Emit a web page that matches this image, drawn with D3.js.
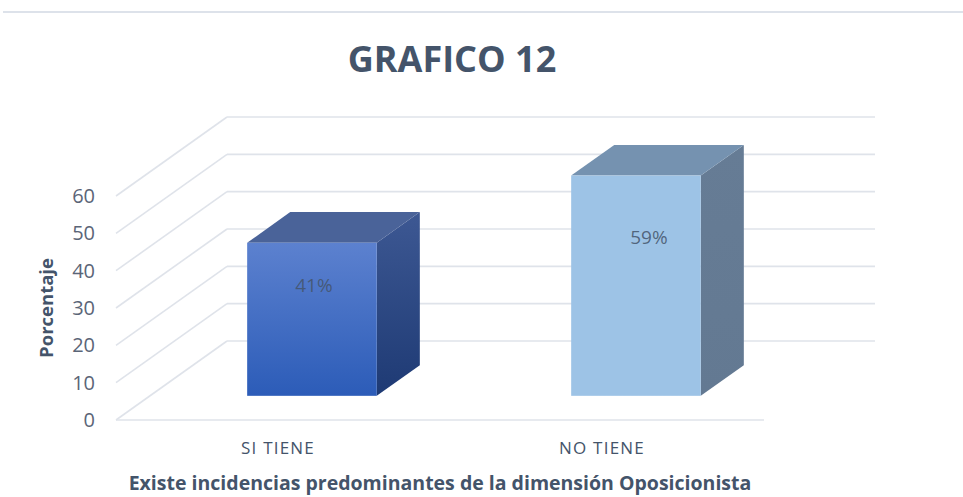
<!DOCTYPE html>
<html>
<head>
<meta charset="utf-8">
<script src="https://cdn.jsdelivr.net/npm/d3@7"></script>
<style>
  body { margin: 0; background: #fff; }
  svg text { font-family: "Open Sans", sans-serif; }
</style>
</head>
<body>
<div id="chart"></div>
<script>
// data
var categories = ["SI TIENE", "NO TIENE"];
var values = [41, 59];
var valueLabels = ["41%", "59%"];
var yTicks = [0, 10, 20, 30, 40, 50, 60];

var svgWidth = 963;
var svgHeight = 497;

// oblique projection of the 3D box: full depth shifts right and up
var DX = 111, DY = 79;
var zFront = 0.306, zBack = 0.694;

var svg = d3.select("#chart")
  .append("svg")
  .attr("width", svgWidth)
  .attr("height", svgHeight);

var defs = svg.append("defs");

function grad(id, c1, c2) {
  var g = defs.append("linearGradient")
    .attr("id", id)
    .attr("x1", 0).attr("y1", 0).attr("x2", 0).attr("y2", 1);
  g.append("stop").attr("offset", "0%").attr("stop-color", c1);
  g.append("stop").attr("offset", "100%").attr("stop-color", c2);
}
grad("front0", "#5c81cf", "#2c5cb8");
grad("side0", "#3d5893", "#1e3a74");
grad("front1", "#9dc3e6", "#9dc3e6");
grad("side1", "#667c95", "#637992");

var faceColors = [
  { front: "url(#front0)", side: "url(#side0)", top: "#4a6399" },
  { front: "url(#front1)", side: "url(#side1)", top: "#7592b0" }
];

// scales
var yScale = d3.scaleLinear().domain([0, 60]).range([420, 196]);
var xScale = d3.scaleBand()
  .domain(categories)
  .range([116, 764])
  .paddingInner(0.6)
  .paddingOuter(0.3);

function proj(x, v, z) {
  return [x + z * DX, yScale(v) - z * DY];
}

// chart border line on top
svg.append("line")
  .attr("x1", 3).attr("x2", 963)
  .attr("y1", 12).attr("y2", 12)
  .attr("stroke", "#dde2ea")
  .attr("stroke-width", 2);

// title
svg.append("text")
  .attr("x", 452)
  .attr("y", 72)
  .attr("text-anchor", "middle")
  .attr("font-size", 36)
  .attr("font-weight", "bold")
  .attr("fill", "#44546a")
  .text("GRAFICO 12");

var grid = svg.append("g")
  .attr("stroke", "#dfe3ea")
  .attr("stroke-width", 1.6)
  .attr("fill", "none");

var x0 = xScale.range()[0], x1 = xScale.range()[1];

// back wall lines
grid.selectAll(".back")
  .data(yTicks)
  .enter()
  .append("line")
  .attr("x1", d => proj(x0, d, 1)[0])
  .attr("y1", d => proj(x0, d, 1)[1])
  .attr("x2", d => proj(x1, d, 1)[0])
  .attr("y2", d => proj(x1, d, 1)[1]);

// side wall lines
grid.selectAll(".side")
  .data(yTicks)
  .enter()
  .append("line")
  .attr("x1", d => proj(x0, d, 0)[0])
  .attr("y1", d => proj(x0, d, 0)[1])
  .attr("x2", d => proj(x0, d, 1)[0])
  .attr("y2", d => proj(x0, d, 1)[1]);

// floor front edge
grid.append("line")
  .attr("x1", proj(x0, 0, 0)[0])
  .attr("y1", proj(x0, 0, 0)[1])
  .attr("x2", proj(x1, 0, 0)[0])
  .attr("y2", proj(x1, 0, 0)[1]);

// y tick labels
svg.append("g")
  .selectAll("text")
  .data(yTicks)
  .enter()
  .append("text")
  .attr("x", 95)
  .attr("y", d => yScale(d))
  .attr("dy", "0.35em")
  .attr("text-anchor", "end")
  .attr("font-size", 20)
  .attr("fill", "#5b6577")
  .text(d => d);

// y axis title
svg.append("text")
  .attr("transform", "translate(53, 308) rotate(-90)")
  .attr("text-anchor", "middle")
  .attr("font-size", 18.5)
  .attr("font-weight", "bold")
  .attr("fill", "#44546a")
  .text("Porcentaje");

// bars
var bars = svg.append("g")
  .selectAll("g")
  .data(values)
  .enter()
  .append("g");

function pts(list) {
  return list.map(p => p.join(",")).join(" ");
}

bars.append("polygon")
  .attr("points", (d, i) => {
    var xr = xScale(categories[i]) + xScale.bandwidth();
    return pts([proj(xr, 0, zFront), proj(xr, 0, zBack), proj(xr, d, zBack), proj(xr, d, zFront)]);
  })
  .attr("fill", (d, i) => faceColors[i].side);

bars.append("polygon")
  .attr("points", (d, i) => {
    var xl = xScale(categories[i]);
    var xr = xl + xScale.bandwidth();
    return pts([proj(xl, d, zFront), proj(xl, d, zBack), proj(xr, d, zBack), proj(xr, d, zFront)]);
  })
  .attr("fill", (d, i) => faceColors[i].top);

bars.append("rect")
  .attr("x", (d, i) => proj(xScale(categories[i]), 0, zFront)[0])
  .attr("y", d => proj(0, d, zFront)[1])
  .attr("width", xScale.bandwidth())
  .attr("height", d => yScale(0) - yScale(d))
  .attr("fill", (d, i) => faceColors[i].front);

// value labels, placed at about 72% of the bar height
var labelNudge = [2, 13];
bars.append("text")
  .attr("x", (d, i) => proj(xScale(categories[i]) + xScale.bandwidth() / 2, 0, zFront)[0] + labelNudge[i])
  .attr("y", d => proj(0, d * 0.72, zFront)[1])
  .attr("dy", "0.35em")
  .attr("text-anchor", "middle")
  .attr("font-size", 19)
  .attr("fill", "#44546a")
  .attr("fill-opacity", 0.85)
  .text((d, i) => valueLabels[i]);

// category labels
svg.append("g")
  .selectAll("text")
  .data(categories)
  .enter()
  .append("text")
  .attr("x", d => xScale(d) + xScale.bandwidth() / 2)
  .attr("y", 454)
  .attr("text-anchor", "middle")
  .attr("font-size", 17)
  .attr("letter-spacing", 1.2)
  .attr("fill", "#44546a")
  .text(d => d);

// x axis title
svg.append("text")
  .attr("x", 440)
  .attr("y", 490)
  .attr("text-anchor", "middle")
  .attr("font-size", 19.5)
  .attr("font-weight", "bold")
  .attr("fill", "#44546a")
  .text("Existe incidencias predominantes de la dimensión Oposicionista");
</script>
</body>
</html>
